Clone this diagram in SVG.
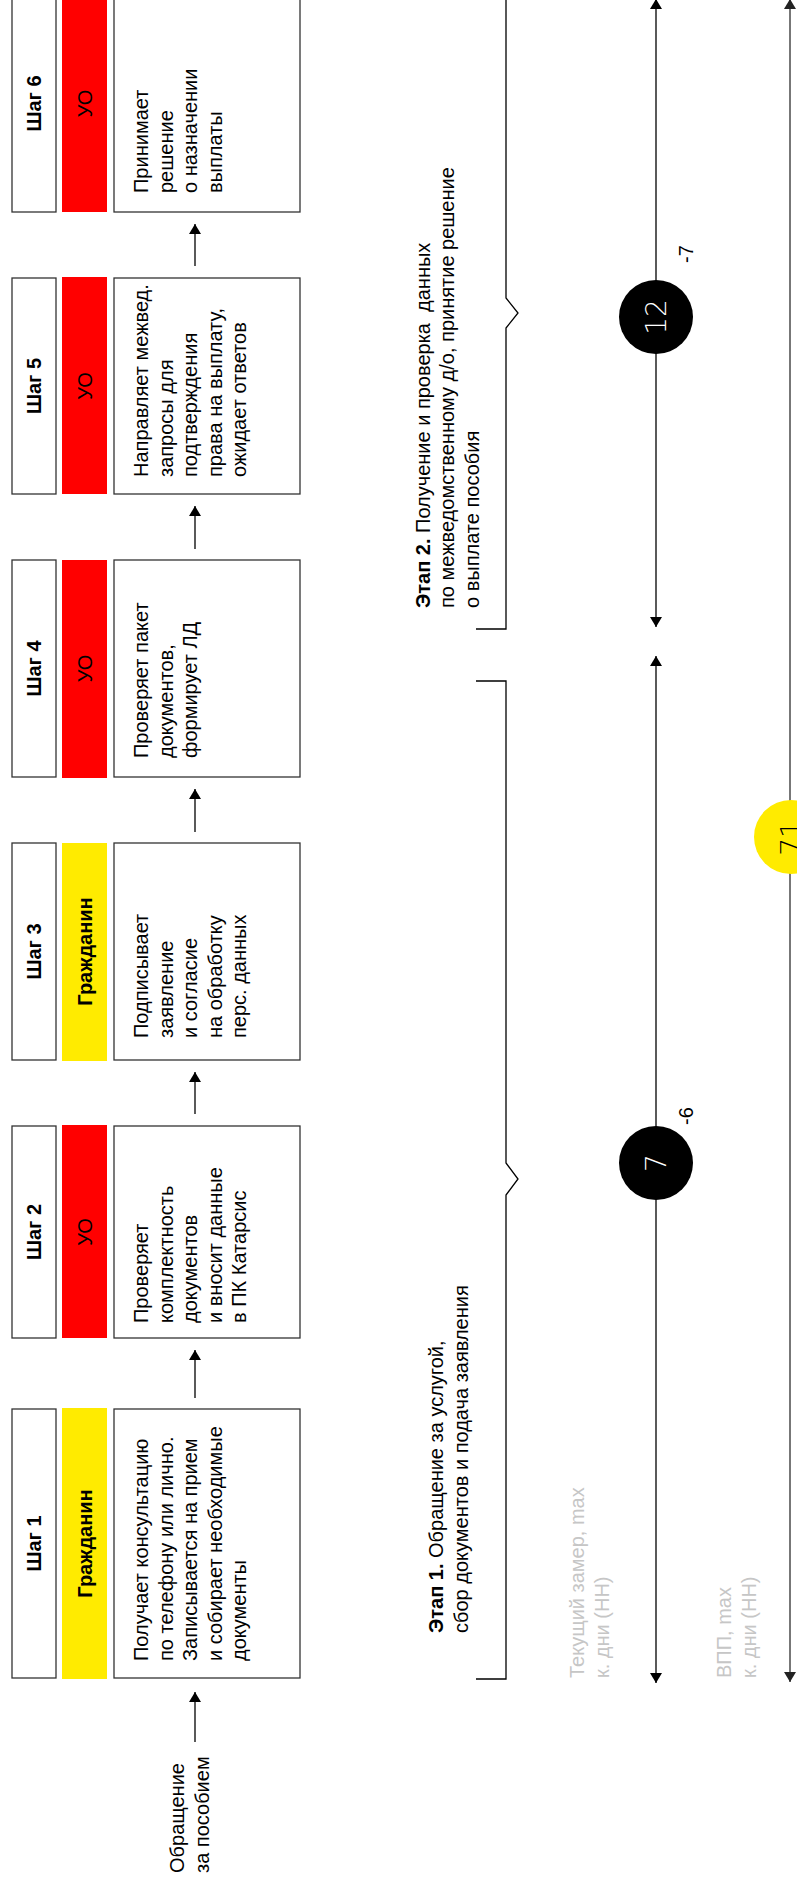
<svg xmlns="http://www.w3.org/2000/svg" width="797" height="1887" viewBox="0 0 797 1887">
<style>
  .t{font-family:"Liberation Sans",Arial,sans-serif;font-size:20px;fill:#000}
  .hd{font-family:"Liberation Sans",Arial,sans-serif;font-size:20px;font-weight:bold;fill:#000}
  .role{font-family:"Liberation Sans",Arial,sans-serif;font-size:20px;fill:#000}
  .gray{font-family:"Liberation Sans",Arial,sans-serif;font-size:20px;fill:#c6c6c6}
  .num{font-family:"DejaVu Sans",sans-serif;font-size:28px;font-weight:200}
  .box{fill:#fff;stroke:#333;stroke-width:1.3}
  .yel{fill:#ffeb00}
  .red{fill:#ff0000}
  .ln{fill:none;stroke:#000;stroke-width:1.3}
  .lnb{fill:none;stroke:#555;stroke-width:1.6}
</style>
<defs>
  <marker id="ah" viewBox="0 0 10 12" refX="10" refY="6" markerWidth="10" markerHeight="12" markerUnits="userSpaceOnUse" orient="auto-start-reverse">
    <path d="M0,0 L10,6 L0,12 z" fill="#000"/>
  </marker>
  <marker id="ahg" viewBox="0 0 10 12" refX="10" refY="6" markerWidth="10" markerHeight="12" markerUnits="userSpaceOnUse" orient="auto-start-reverse">
    <path d="M0,0 L10,6 L0,12 z" fill="#222"/>
  </marker>
</defs>
<rect width="797" height="1887" fill="#fff"/>

<g id="start-label">
  <text class="t" transform="translate(184,1873) rotate(-90)"><tspan x="0" dy="0">Обращение</tspan><tspan x="0" dy="25">за пособием</tspan></text>
</g>

<g id="step1">
  <rect class="box" x="12" y="1409" width="44" height="269"/>
  <text class="hd" text-anchor="middle" transform="translate(41,1543.5) rotate(-90)">Шаг 1</text>
  <rect class="yel" x="62" y="1408" width="45" height="271"/>
  <text class="role" font-weight="bold" text-anchor="middle" transform="translate(92,1543.5) rotate(-90)">Гражданин</text>
  <rect class="box" x="114" y="1409" width="186" height="269"/>
  <text class="t" transform="translate(148,1661) rotate(-90)"><tspan x="0" dy="0">Получает консультацию</tspan><tspan x="0" dy="24.6">по телефону или лично.</tspan><tspan x="0" dy="24.6">Записывается на прием</tspan><tspan x="0" dy="24.6">и собирает необходимые</tspan><tspan x="0" dy="24.6">документы</tspan></text>
</g>

<g id="step2">
  <rect class="box" x="12" y="1126" width="44" height="212"/>
  <text class="hd" text-anchor="middle" transform="translate(41,1232) rotate(-90)">Шаг 2</text>
  <rect class="red" x="62" y="1125" width="45" height="213"/>
  <text class="role" text-anchor="middle" transform="translate(92,1232) rotate(-90)">УО</text>
  <rect class="box" x="114" y="1126" width="186" height="212"/>
  <text class="t" transform="translate(148,1323) rotate(-90)"><tspan x="0" dy="0">Проверяет</tspan><tspan x="0" dy="24.6">комплектность</tspan><tspan x="0" dy="24.6">документов</tspan><tspan x="0" dy="24.6">и вносит данные</tspan><tspan x="0" dy="24.6">в ПК Катарсис</tspan></text>
</g>

<g id="step3">
  <rect class="box" x="12" y="843" width="44" height="217"/>
  <text class="hd" text-anchor="middle" transform="translate(41,951.5) rotate(-90)">Шаг 3</text>
  <rect class="yel" x="62" y="843" width="45" height="218"/>
  <text class="role" font-weight="bold" text-anchor="middle" transform="translate(92,951.5) rotate(-90)">Гражданин</text>
  <rect class="box" x="114" y="843" width="186" height="217"/>
  <text class="t" transform="translate(148,1038) rotate(-90)"><tspan x="0" dy="0">Подписывает</tspan><tspan x="0" dy="24.6">заявление</tspan><tspan x="0" dy="24.6">и согласие</tspan><tspan x="0" dy="24.6">на обработку</tspan><tspan x="0" dy="24.6">перс. данных</tspan></text>
</g>

<g id="step4">
  <rect class="box" x="12" y="560" width="44" height="217"/>
  <text class="hd" text-anchor="middle" transform="translate(41,668.5) rotate(-90)">Шаг 4</text>
  <rect class="red" x="62" y="560" width="45" height="218"/>
  <text class="role" text-anchor="middle" transform="translate(92,668.5) rotate(-90)">УО</text>
  <rect class="box" x="114" y="560" width="186" height="217"/>
  <text class="t" transform="translate(148,758) rotate(-90)"><tspan x="0" dy="0">Проверяет пакет</tspan><tspan x="0" dy="24.6">документов,</tspan><tspan x="0" dy="24.6">формирует ЛД</tspan></text>
</g>

<g id="step5">
  <rect class="box" x="12" y="278" width="44" height="216"/>
  <text class="hd" text-anchor="middle" transform="translate(41,386) rotate(-90)">Шаг 5</text>
  <rect class="red" x="62" y="277" width="45" height="217"/>
  <text class="role" text-anchor="middle" transform="translate(92,386) rotate(-90)">УО</text>
  <rect class="box" x="114" y="278" width="186" height="216"/>
  <text class="t" transform="translate(148,477) rotate(-90)"><tspan x="0" dy="0">Направляет межвед.</tspan><tspan x="0" dy="24.6">запросы для</tspan><tspan x="0" dy="24.6">подтверждения</tspan><tspan x="0" dy="24.6">права на выплату,</tspan><tspan x="0" dy="24.6">ожидает ответов</tspan></text>
</g>

<g id="step6">
  <rect class="box" x="12" y="-5" width="44" height="217"/>
  <text class="hd" text-anchor="middle" transform="translate(41,103.5) rotate(-90)">Шаг 6</text>
  <rect class="red" x="62" y="-5" width="45" height="217"/>
  <text class="role" text-anchor="middle" transform="translate(92,103.5) rotate(-90)">УО</text>
  <rect class="box" x="114" y="-5" width="186" height="217"/>
  <text class="t" transform="translate(148,193) rotate(-90)"><tspan x="0" dy="0">Принимает</tspan><tspan x="0" dy="24.6">решение</tspan><tspan x="0" dy="24.6">о назначении</tspan><tspan x="0" dy="24.6">выплаты</tspan></text>
</g>

<g id="connectors">
  <line class="ln" x1="195" y1="1742" x2="195" y2="1692" marker-end="url(#ah)"/>
  <line class="ln" x1="195" y1="1398" x2="195" y2="1350" marker-end="url(#ah)"/>
  <line class="ln" x1="195" y1="1114" x2="195" y2="1072" marker-end="url(#ah)"/>
  <line class="ln" x1="195" y1="832" x2="195" y2="789" marker-end="url(#ah)"/>
  <line class="ln" x1="195" y1="549" x2="195" y2="506" marker-end="url(#ah)"/>
  <line class="ln" x1="195" y1="266" x2="195" y2="224" marker-end="url(#ah)"/>
</g>

<g id="stage1">
  <path class="ln" d="M476,681 H506 V1163 L518,1179 L506,1195 V1679 H476"/>
  <text class="t" transform="translate(443,1633) rotate(-90)"><tspan x="0" dy="0"><tspan font-weight="bold">Этап 1.</tspan> Обращение за услугой,</tspan><tspan x="0" dy="25">сбор документов и подача заявления</tspan></text>
</g>

<g id="stage2">
  <path class="ln" d="M476,-3 H506 V298 L518,313 L506,328 V629 H476"/>
  <text class="t" transform="translate(430,608) rotate(-90)" xml:space="preserve"><tspan x="0" dy="0"><tspan font-weight="bold">Этап 2.</tspan> Получение и проверка  данных</tspan><tspan x="0" dy="24.3">по межведомственному д/о, принятие решение</tspan><tspan x="0" dy="24.3">о выплате пособия</tspan></text>
</g>

<g id="timeline-labels">
  <text class="gray" transform="translate(584,1678) rotate(-90)"><tspan x="0" dy="0">Текущий замер, max</tspan><tspan x="0" dy="25">к. дни (НН)</tspan></text>
  <text class="gray" transform="translate(731,1678) rotate(-90)"><tspan x="0" dy="0">ВПП, max</tspan><tspan x="0" dy="25">к. дни (НН)</tspan></text>
</g>

<g id="timelines">
  <line class="ln" x1="656" y1="656" x2="656" y2="1683" marker-start="url(#ah)" marker-end="url(#ah)"/>
  <line class="ln" x1="656" y1="-1" x2="656" y2="627" marker-start="url(#ah)" marker-end="url(#ah)"/>
  <line class="lnb" x1="790" y1="-1" x2="790" y2="1682" marker-start="url(#ahg)" marker-end="url(#ahg)"/>
</g>

<g id="marker-7">
  <circle cx="656" cy="1163" r="37" fill="#000"/>
  <text class="num" fill="#fff" text-anchor="middle" transform="translate(666,1163) rotate(-90)">7</text>
  <text class="t" transform="translate(693,1125) rotate(-90)">-6</text>
</g>

<g id="marker-12">
  <circle cx="656" cy="317" r="37" fill="#000"/>
  <text class="num" fill="#fff" text-anchor="middle" transform="translate(666,317) rotate(-90)">12</text>
  <text class="t" transform="translate(693,263) rotate(-90)">-7</text>
</g>

<g id="marker-71">
  <circle cx="791" cy="837" r="37" fill="#ffeb00"/>
  <text class="num" fill="#000" text-anchor="middle" transform="translate(801,838) rotate(-90)">71</text>
</g>
</svg>
